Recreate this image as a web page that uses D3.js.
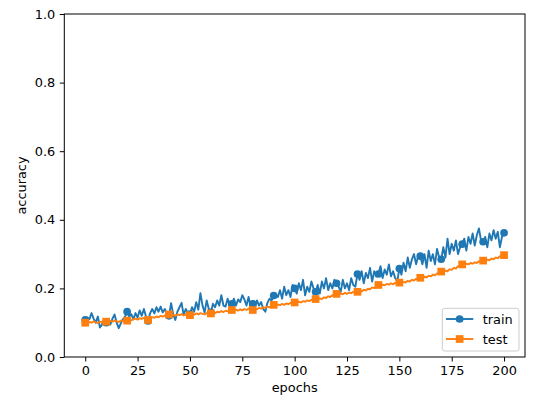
<!DOCTYPE html>
<html>
<head>
<meta charset="utf-8">
<script src="https://cdn.jsdelivr.net/npm/d3@7"></script>
<style>
  html, body { margin: 0; padding: 0; background: #fff; }
  text { font-family: "DejaVu Sans", sans-serif; }
</style>
</head>
<body>
<svg id="chart" width="554" height="401"></svg>
<script>
// ---- data ----
const trainAcc = [
  0.108, 0.115, 0.110, 0.128, 0.112, 0.100, 0.118, 0.086, 0.095, 0.110,
  0.100, 0.105, 0.095, 0.112, 0.124, 0.100, 0.084, 0.098, 0.110, 0.118,
  0.132, 0.118, 0.125, 0.110, 0.128, 0.115, 0.136, 0.120, 0.140, 0.118,
  0.105, 0.128, 0.140, 0.127, 0.145, 0.132, 0.147, 0.130, 0.140, 0.125,
  0.120, 0.157, 0.125, 0.108, 0.132, 0.145, 0.158, 0.122, 0.140, 0.128,
  0.125, 0.145, 0.132, 0.160, 0.138, 0.186, 0.150, 0.130, 0.165, 0.140,
  0.130, 0.155, 0.145, 0.165, 0.150, 0.180, 0.150, 0.147, 0.170, 0.148,
  0.155, 0.170, 0.150, 0.168, 0.160, 0.180, 0.168, 0.150, 0.175, 0.145,
  0.155, 0.142, 0.165, 0.150, 0.160, 0.140, 0.132, 0.158, 0.170, 0.165,
  0.179, 0.182, 0.175, 0.195, 0.170, 0.205, 0.180, 0.195, 0.175, 0.210,
  0.200, 0.185, 0.215, 0.195, 0.225, 0.180, 0.205, 0.190, 0.220, 0.200,
  0.190, 0.210, 0.185, 0.220, 0.200, 0.230, 0.195, 0.215, 0.200, 0.225,
  0.215, 0.205, 0.190, 0.225, 0.200, 0.215, 0.195, 0.230, 0.210, 0.205,
  0.242, 0.225, 0.250, 0.215, 0.245, 0.230, 0.260, 0.220, 0.250, 0.235,
  0.242, 0.265, 0.230, 0.255, 0.240, 0.270, 0.235, 0.250, 0.230, 0.220,
  0.258, 0.240, 0.275, 0.250, 0.290, 0.260, 0.285, 0.300, 0.270, 0.295,
  0.294, 0.270, 0.300, 0.260, 0.310, 0.280, 0.300, 0.270, 0.315, 0.290,
  0.285, 0.320, 0.290, 0.345, 0.300, 0.330, 0.310, 0.340, 0.300, 0.320,
  0.329, 0.345, 0.310, 0.350, 0.330, 0.360, 0.325, 0.355, 0.375, 0.340,
  0.336, 0.350, 0.320, 0.360, 0.340, 0.370, 0.345, 0.365, 0.320, 0.350,
  0.362
];
const testAcc = [
  0.100, 0.098, 0.102, 0.100, 0.104, 0.101, 0.099, 0.103, 0.102, 0.100,
  0.103, 0.101, 0.105, 0.103, 0.106, 0.104, 0.102, 0.106, 0.105, 0.107,
  0.106, 0.109, 0.107, 0.110, 0.112, 0.109, 0.113, 0.111, 0.114, 0.112,
  0.108, 0.113, 0.116, 0.114, 0.118, 0.116, 0.120, 0.118, 0.121, 0.119,
  0.124, 0.121, 0.123, 0.120, 0.124, 0.122, 0.125, 0.121, 0.124, 0.123,
  0.122, 0.125, 0.123, 0.127, 0.124, 0.128, 0.126, 0.124, 0.128, 0.126,
  0.127, 0.130, 0.128, 0.132, 0.130, 0.134, 0.131, 0.135, 0.133, 0.136,
  0.137, 0.134, 0.138, 0.135, 0.139, 0.136, 0.140, 0.137, 0.141, 0.139,
  0.137, 0.141, 0.139, 0.143, 0.141, 0.145, 0.143, 0.147, 0.145, 0.149,
  0.152, 0.149, 0.153, 0.151, 0.155, 0.152, 0.156, 0.154, 0.158, 0.156,
  0.159, 0.157, 0.161, 0.159, 0.163, 0.161, 0.165, 0.163, 0.167, 0.165,
  0.169, 0.167, 0.171, 0.169, 0.174, 0.172, 0.177, 0.175, 0.180, 0.178,
  0.184, 0.181, 0.185, 0.183, 0.187, 0.184, 0.188, 0.186, 0.190, 0.188,
  0.190, 0.193, 0.191, 0.196, 0.194, 0.199, 0.197, 0.203, 0.201, 0.206,
  0.210, 0.207, 0.211, 0.209, 0.213, 0.211, 0.215, 0.212, 0.216, 0.214,
  0.217, 0.215, 0.219, 0.217, 0.222, 0.220, 0.225, 0.223, 0.228, 0.227,
  0.231, 0.229, 0.234, 0.232, 0.237, 0.235, 0.240, 0.238, 0.244, 0.242,
  0.249, 0.246, 0.252, 0.250, 0.256, 0.254, 0.260, 0.258, 0.265, 0.263,
  0.270, 0.267, 0.272, 0.270, 0.274, 0.272, 0.276, 0.274, 0.279, 0.277,
  0.281, 0.279, 0.284, 0.282, 0.287, 0.285, 0.290, 0.288, 0.294, 0.292,
  0.297
];
const xTicks = [0, 25, 50, 75, 100, 125, 150, 175, 200];
const yTicks = [0.0, 0.2, 0.4, 0.6, 0.8, 1.0];
const seriesNames = ["train", "test"];
const markEvery = 10;

// ---- layout ----
const plot = { left: 64.3, top: 14, right: 525, bottom: 357 };
const svg = d3.select("#chart");

const x = d3.scaleLinear().domain([-10, 210]).range([plot.left, plot.right]);
const y = d3.scaleLinear().domain([0, 1]).range([plot.bottom, plot.top]);

const colors = ["#1f77b4", "#ff7f0e"];
const series = [
  { name: seriesNames[0], values: trainAcc, color: colors[0], marker: "circle" },
  { name: seriesNames[1], values: testAcc, color: colors[1], marker: "square" }
];

// clip
svg.append("defs").append("clipPath").attr("id", "clip")
  .append("rect").attr("x", plot.left).attr("y", plot.top)
  .attr("width", plot.right - plot.left).attr("height", plot.bottom - plot.top);

const g = svg.append("g").attr("clip-path", "url(#clip)");
const line = d3.line().x((d, i) => x(i)).y(d => y(d));

const markerSize = 7.7;
series.forEach(s => {
  g.append("path").datum(s.values)
    .attr("fill", "none").attr("stroke", s.color)
    .attr("stroke-width", 1.9).attr("stroke-linejoin", "round").attr("stroke-linecap", "square")
    .attr("d", line);
  const pts = s.values.map((v, i) => ({ i, v })).filter(p => p.i % markEvery === 0);
  if (s.marker === "circle") {
    g.selectAll(null).data(pts).enter().append("circle")
      .attr("cx", p => x(p.i)).attr("cy", p => y(p.v)).attr("r", markerSize / 2)
      .attr("fill", s.color);
  } else {
    g.selectAll(null).data(pts).enter().append("rect")
      .attr("x", p => x(p.i) - markerSize / 2).attr("y", p => y(p.v) - markerSize / 2)
      .attr("width", markerSize).attr("height", markerSize)
      .attr("fill", s.color);
  }
});

// axes
const fontSize = 12.9;
const xAxis = d3.axisBottom(x).tickValues(xTicks).tickSize(4.5).tickPadding(4.5).tickFormat(d3.format("d"));
const yAxis = d3.axisLeft(y).tickValues(yTicks).tickSize(4.5).tickPadding(4.5).tickFormat(d3.format(".1f"));

const gx = svg.append("g").attr("transform", `translate(0,${plot.bottom})`).call(xAxis);
const gy = svg.append("g").attr("transform", `translate(${plot.left},0)`).call(yAxis);
[gx, gy].forEach(ax => {
  ax.select(".domain").remove();
  ax.selectAll(".tick line").attr("stroke", "#000").attr("stroke-width", 1);
  ax.selectAll(".tick text").attr("fill", "#000").style("font-size", fontSize + "px")
    .style("font-family", "'DejaVu Sans', sans-serif");
});

// frame
svg.append("rect").attr("x", plot.left).attr("y", plot.top)
  .attr("width", plot.right - plot.left).attr("height", plot.bottom - plot.top)
  .attr("fill", "none").attr("stroke", "#000").attr("stroke-width", 1);

// axis labels
svg.append("text").attr("x", (plot.left + plot.right) / 2).attr("y", 392)
  .attr("text-anchor", "middle").style("font-size", fontSize + "px").text("epochs");
svg.append("text")
  .attr("transform", `translate(26,${(plot.top + plot.bottom) / 2}) rotate(-90)`)
  .attr("text-anchor", "middle").style("font-size", fontSize + "px").text("accuracy");

// legend
const leg = svg.append("g");
leg.append("rect").attr("x", 442.3).attr("y", 308.3).attr("width", 76.7).attr("height", 42.7)
  .attr("rx", 2.5).attr("fill", "#fff").attr("fill-opacity", 0.8)
  .attr("stroke", "#cccccc").attr("stroke-width", 1);
series.forEach((s, k) => {
  const ly = 319 + k * 20;
  leg.append("line").attr("x1", 446).attr("x2", 473.3).attr("y1", ly).attr("y2", ly)
    .attr("stroke", s.color).attr("stroke-width", 1.9);
  const cx = (446 + 473.3) / 2;
  if (s.marker === "circle") {
    leg.append("circle").attr("cx", cx).attr("cy", ly).attr("r", markerSize / 2).attr("fill", s.color);
  } else {
    leg.append("rect").attr("x", cx - markerSize / 2).attr("y", ly - markerSize / 2)
      .attr("width", markerSize).attr("height", markerSize).attr("fill", s.color);
  }
  leg.append("text").attr("x", 482.7).attr("y", ly).attr("dy", "0.36em")
    .style("font-size", fontSize + "px").attr("fill", "#000").text(s.name);
});
</script>
</body>
</html>
